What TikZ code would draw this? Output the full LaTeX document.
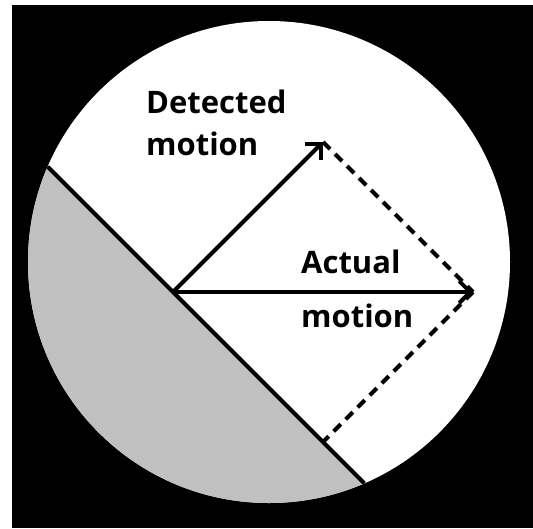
\documentclass[tikz,border=0pt]{standalone}
\usepackage{fontspec}
\setmainfont{Open Sans}
\usetikzlibrary{arrows.meta}
\definecolor{regiongray}{HTML}{C0C0C0}
\tikzset{
  vec/.style={line width=4pt,-{Straight Barb[length=11pt,width=22pt,line width=4pt]}},
  proj/.style={line width=4pt,dash pattern=on 10pt off 7pt},
  cutline/.style={line width=4pt},
  lbl/.style={font=\fontsize{31}{36}\selectfont\bfseries,inner sep=0pt,anchor=base west}
}
\begin{document}
\begin{tikzpicture}[x=1pt,y=-1pt]
\useasboundingbox (0,0) rectangle (533,528);
\fill[white] (0,0) rectangle (533,528);
\fill[black] (12,5) rectangle (533,528);
\coordinate (C) at (269,262);
\fill[white] (C) circle[radius=241];
\begin{scope}
  \clip (C) circle[radius=241];
  \fill[regiongray] (-227,-108) -- (573,692) -- (-300,692) -- cycle;
\end{scope}
\coordinate (O) at (173,292);
\coordinate (L1) at (47.7,166.7);
\coordinate (L2) at (364.3,483.3);
\coordinate (D) at (323,142);
\coordinate (A) at (473,292);
\coordinate (F) at (323,442);
\draw[cutline] (L1) -- (L2);
\draw[proj] (D) -- (A);
\draw[proj] (A) -- (F);
\draw[vec] (O) -- (D);
\draw[vec] (O) -- (A);
\node[lbl] (det1) at (146,113) {Detected};
\node[lbl] (det2) at (146,155) {motion};
\node[lbl] (act1) at (301,273) {Actual};
\node[lbl] (act2) at (301,327) {motion};
\end{tikzpicture}
\end{document}
